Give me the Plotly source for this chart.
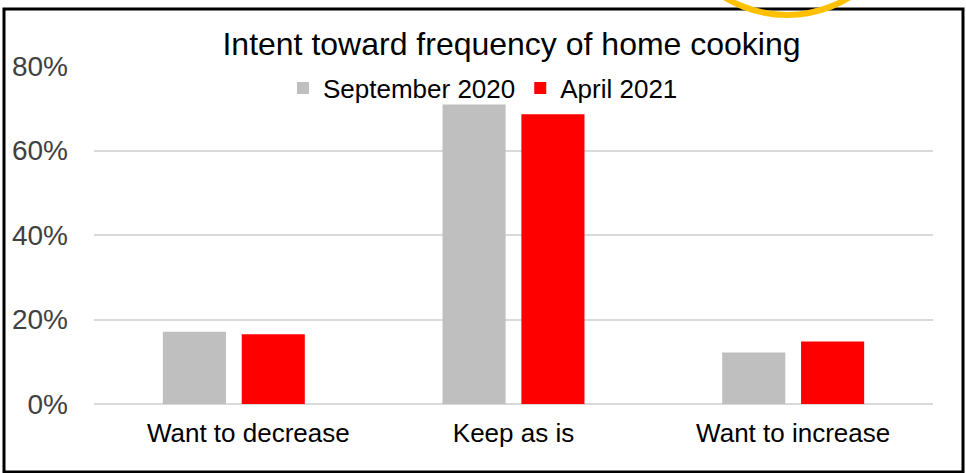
import plotly.graph_objects as go

categories = ["Want to decrease", "Keep as is", "Want to increase"]
sept_2020 = [17.1, 70.9, 12.2]
april_2021 = [16.5, 68.6, 14.8]
series_names = ["September 2020", "April 2021"]
y_tickvals = [0, 20, 40, 60, 80]
y_ticktext = ["0%", "20%", "40%", "60%", "80%"]
title_text = "Intent toward frequency of home cooking"

W, H = 966, 473
L, R, T, B = 94, 33, 66, 69
PW, PH = W - L - R, H - T - B

def px_x(x):
    return (x - L) / PW

def px_y(y):
    return (H - B - y) / PH

# first category label sits slightly right of its bars in the reference
x_ticktext = ["\u00a0" * 4 + categories[0]] + categories[1:]

fig = go.Figure()
fig.add_trace(go.Bar(x=categories, y=sept_2020, name=series_names[0],
                     marker=dict(color="#bfbfbf", line=dict(width=0))))
fig.add_trace(go.Bar(x=categories, y=april_2021, name=series_names[1],
                     marker=dict(color="#ff0000", line=dict(width=0))))

fig.update_layout(
    width=W, height=H,
    margin=dict(l=L, r=R, t=T, b=B),
    paper_bgcolor="white", plot_bgcolor="white",
    font=dict(family="Liberation Sans, Arial, sans-serif", color="black"),
    barmode="group", bargap=0.436, bargroupgap=0.2,
    showlegend=True,
    legend=dict(orientation="h", x=px_x(483), xanchor="center",
                y=px_y(88), yanchor="middle", bgcolor="rgba(0,0,0,0)",
                font=dict(size=26, color="black"), traceorder="normal",
                itemwidth=30),
    xaxis=dict(showgrid=False, showline=False, zeroline=False, ticks="",
               tickvals=categories, ticktext=x_ticktext,
               ticklabelstandoff=11,
               tickfont=dict(size=26, color="black")),
    yaxis=dict(range=[0, 80], tickvals=y_tickvals, ticktext=y_ticktext,
               showgrid=True, gridcolor="#d9d9d9", gridwidth=2,
               zeroline=True, zerolinecolor="#d9d9d9", zerolinewidth=2,
               showline=False, ticks="", ticklabelstandoff=25,
               tickfont=dict(size=28, color="#404040")),
)

fig.add_annotation(text=title_text, xref="paper", yref="paper",
                   x=px_x(511), y=px_y(44), xanchor="center", yanchor="middle",
                   width=619, height=48, bgcolor="white", borderpad=0,
                   showarrow=False, font=dict(size=32, color="black"))

# frame
fig.add_shape(type="rect", xref="paper", yref="paper",
              x0=px_x(4), x1=px_x(963), y0=px_y(472), y1=px_y(9),
              line=dict(color="black", width=3), fillcolor="rgba(0,0,0,0)",
              layer="above")
# yellow highlight ring
fig.add_shape(type="circle", xref="paper", yref="paper",
              x0=px_x(668), x1=px_x(906), y0=px_y(15), y1=px_y(-223),
              line=dict(color="#ffc000", width=6), fillcolor="rgba(0,0,0,0)",
              layer="above")

fig.write_html("out.html")
